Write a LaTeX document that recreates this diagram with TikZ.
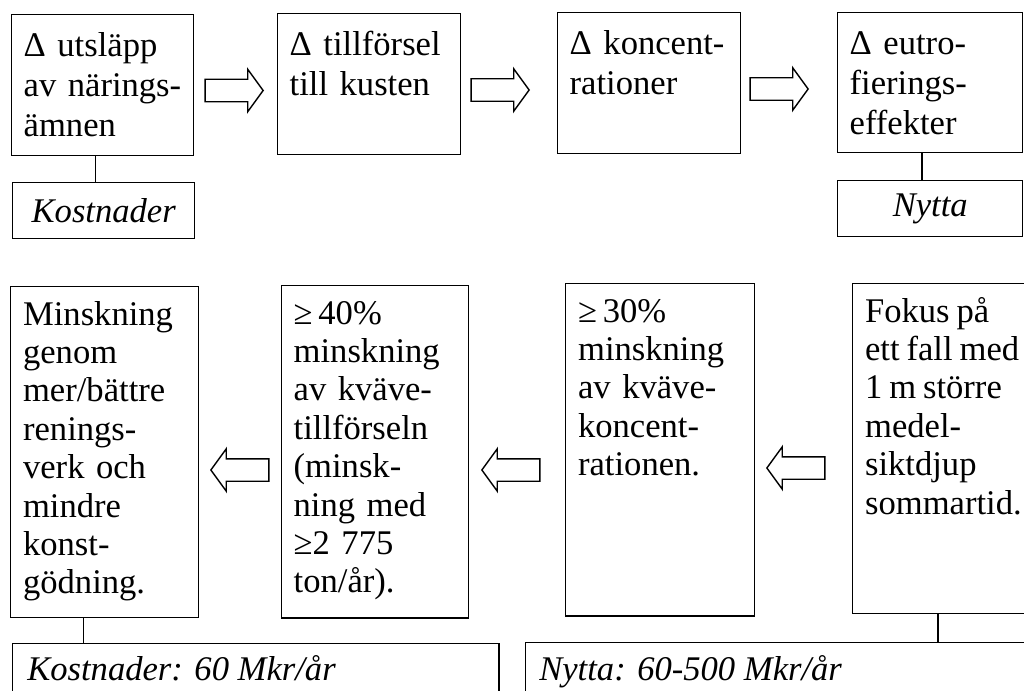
\documentclass[tikz,border=0pt]{standalone}
\usepackage{fontspec}
\setmainfont{Liberation Serif}
\usetikzlibrary{shapes.arrows}
\pgfdeclarelayer{edgelayer}
\pgfdeclarelayer{nodelayer}
\pgfsetlayers{edgelayer,nodelayer,main}
\tikzstyle{edge}=[draw=black, line width=1pt]
\tikzstyle{box}=[rectangle, draw=black, line width=1pt, anchor=north west, inner sep=0pt]
\tikzstyle{boxtext}=[anchor=north west, inner sep=0pt, align=left, text width=4.5cm, font={\fontsize{24.6pt}{28.4pt}\selectfont}]
\tikzstyle{longtext}=[boxtext, font={\fontsize{24.6pt}{27.3pt}\selectfont}]
\tikzstyle{result}=[box, font={\fontsize{24.6pt}{28pt}\selectfont\itshape}]
\tikzstyle{resulttext}=[anchor=base west, inner sep=0pt, font={\fontsize{24.6pt}{28pt}\selectfont\itshape}]
\tikzstyle{rarrow}=[single arrow, draw=black, line width=1pt, fill=white, inner sep=0.2625cm, minimum width=0pt, minimum height=1.45cm, single arrow head extend=0.25cm, single arrow tip angle=108, anchor=tip]
\tikzstyle{larrow}=[rarrow, shape border rotate=180]

\begin{document}
\begin{tikzpicture}[x=0.025cm, y=-0.025cm]
			\useasboundingbox (0, 0) rectangle (1024, 690);
			\begin{pgfonlayer}{nodelayer}
			% upper chain
			\node [style=box, minimum width=4.55cm, minimum height=3.525cm] (1) at (11, 14) {};
			\node [style=box, minimum width=4.575cm, minimum height=3.525cm] (2) at (277, 13) {};
			\node [style=box, minimum width=4.575cm, minimum height=3.525cm] (3) at (557, 12) {};
			\node [style=box, minimum width=4.625cm, minimum height=3.5cm] (4) at (837, 12) {};
			\node [style=boxtext] (1t) at ([xshift=0.31cm, yshift=-0.35cm]1.north west) {\strut Δ utsläpp\\av närings-\\ämnen};
			\node [style=boxtext] (2t) at ([xshift=0.31cm, yshift=-0.35cm]2.north west) {\strut Δ tillförsel\\till kusten};
			\node [style=boxtext] (3t) at ([xshift=0.31cm, yshift=-0.35cm]3.north west) {\strut Δ koncent-\\rationer};
			\node [style=boxtext] (4t) at ([xshift=0.31cm, yshift=-0.35cm]4.north west) {\strut Δ eutro-\\fierings-\\effekter};
			\node [style=result, minimum width=4.55cm, minimum height=1.4cm] (9) at (12, 182) {Kostnader};
			\node [style=result, minimum width=4.625cm, minimum height=1.4cm] (10) at (837, 180) {Nytta};
			\node [style=rarrow] (a1) at (264, 90.5) {};
			\node [style=rarrow] (a2) at (530, 90) {};
			\node [style=rarrow] (a3) at (809, 89) {};
			% lower chain
			\node [style=box, minimum width=4.7cm, minimum height=8.275cm] (5) at (10, 286) {};
			\node [style=box, minimum width=4.675cm, minimum height=8.3cm] (6) at (281, 285) {};
			\node [style=box, minimum width=4.725cm, minimum height=8.3cm] (7) at (565, 283) {};
			\node [style=box, minimum width=4.7cm, minimum height=8.25cm] (8) at (852, 283) {};
			\node [style=longtext] (5t) at ([xshift=0.32cm, yshift=-0.3cm]5.north west) {\strut Minskning\\genom\\mer/bättre\\renings-\\verk och\\mindre\\konst-\\gödning.};
			\node [style=longtext] (6t) at ([xshift=0.31cm, yshift=-0.3cm]6.north west) {\strut ≥\,40\%\\minskning\\av kväve-\\tillförseln\\(minsk-\\ning med\\≥2 775\\ton/år).};
			\node [style=longtext] (7t) at ([xshift=0.32cm, yshift=-0.3cm]7.north west) {\strut ≥\,30\%\\minskning\\av kväve-\\koncent-\\rationen.};
			\node [style=longtext] (8t) at ([xshift=0.32cm, yshift=-0.3cm]8.north west) {\spaceskip=0.2em\strut Fokus på\\ett fall med\\1 m större\\medel-\\siktdjup\\sommartid.};
			\node [style=larrow] (a4) at (210, 470) {};
			\node [style=larrow] (a5) at (481, 470) {};
			\node [style=larrow] (a6) at (766, 468) {};
			\node [style=box, minimum width=12.15cm, minimum height=1.7cm] (11) at (12, 643) {};
			\node [style=box, minimum width=12.875cm, minimum height=1.7cm] (12) at (525, 642) {};
			\node [style=resulttext] (11t) at ([xshift=0.375cm, yshift=-0.925cm]11.north west) {Kostnader: 60 Mkr/år};
			\node [style=resulttext] (12t) at ([xshift=0.35cm, yshift=-0.95cm]12.north west) {Nytta: 60-500 Mkr/år};
			\end{pgfonlayer}
			\begin{pgfonlayer}{edgelayer}
			\draw [style=edge] ([xshift=-0.175cm]1.south) to ([xshift=-0.175cm]1.south |- 9.north);
			\draw [style=edge] ([xshift=-0.21cm]4.south) to ([xshift=-0.21cm]4.south |- 10.north);
			\draw [style=edge] ([xshift=-0.525cm]5.south) to ([xshift=-0.525cm]5.south |- 11.north);
			\draw [style=edge] ([xshift=2.15cm]8.south west) to ([xshift=2.15cm]8.south west |- 12.north);
			\end{pgfonlayer}
\end{tikzpicture}
\end{document}
